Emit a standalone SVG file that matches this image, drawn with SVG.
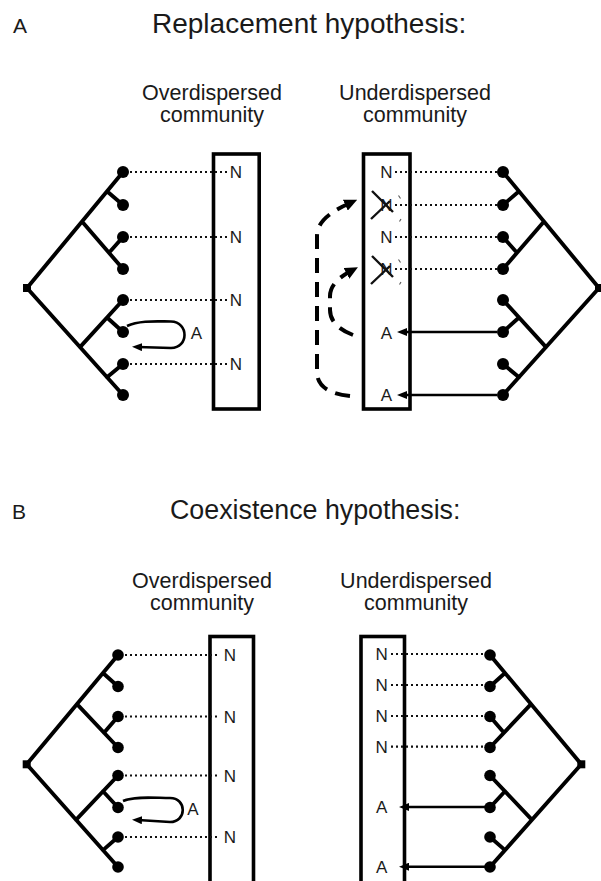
<svg xmlns="http://www.w3.org/2000/svg" width="601" height="881" viewBox="0 0 601 881">
<style>
.t{font-family:"Liberation Sans",Arial,sans-serif;fill:#1a1a1a}
.titleA{font-size:28px}
.titleB{font-size:26.8px}
.pl{font-size:21px}
.lbl{font-size:21.5px;text-anchor:middle}
.sp{font-size:17px;text-anchor:middle}
.tree{stroke:#000;stroke-width:3.9;fill:none;stroke-linecap:round}
.box{fill:none;stroke:#000;stroke-width:3.6}
.dotted{stroke:#111;stroke-width:2.2;stroke-dasharray:2 3;fill:none}
.solid{stroke:#000;stroke-width:2.6;fill:none}
.dash{stroke:#000;stroke-width:4;stroke-dasharray:15 9;fill:none}
.loop{stroke:#000;stroke-width:2.6;fill:none}
.xm{stroke:#111;stroke-width:2.4;fill:none}
.tick{stroke:#555;stroke-width:1.1;fill:none}
</style>
<defs>
<marker id="arr" viewBox="0 0 10 8" refX="4" refY="4" markerWidth="10" markerHeight="8" markerUnits="userSpaceOnUse" orient="auto"><path d="M0,0 L10,4 L0,8 z" fill="#000"/></marker>
<marker id="arrd" viewBox="0 0 13 12" refX="4" refY="6" markerWidth="13" markerHeight="12" markerUnits="userSpaceOnUse" orient="auto"><path d="M0,0 L13,6 L0,12 z" fill="#000"/></marker>
<g id="treeA">
<path class="tree" d="M27 288 L123 172 M82 221.5 L123 269 M107 191.3 L123 205 M109 252.8 L123 237 M27 288 L123 395 M80 347.1 L123 300 M107 317.5 L123 332 M107 377.2 L123 364"/>
<g fill="#000"><circle cx="123" cy="172" r="6"/><circle cx="123" cy="205" r="6"/><circle cx="123" cy="237" r="6"/><circle cx="123" cy="269" r="6"/><circle cx="123" cy="300" r="6"/><circle cx="123" cy="332" r="6"/><circle cx="123" cy="364" r="6"/><circle cx="123" cy="395" r="6"/></g>
<rect x="23" y="284" width="8" height="8" fill="#000"/>
</g>
<g id="treeB">
<path class="tree" d="M26.7 764.3 L118 655 M77 704.1 L118 747.5 M103 673 L118 686.5 M104 732.7 L118 716.5 M26.7 764.3 L118 867 M76 819.8 L118 775.5 M103 791.3 L118 807.5 M103 850.1 L118 837"/>
<g fill="#000"><circle cx="118" cy="655" r="5.8"/><circle cx="118" cy="686.5" r="5.8"/><circle cx="118" cy="716.5" r="5.8"/><circle cx="118" cy="747.5" r="5.8"/><circle cx="118" cy="775.5" r="5.8"/><circle cx="118" cy="807.5" r="5.8"/><circle cx="118" cy="837" r="5.8"/><circle cx="118" cy="867" r="5.8"/></g>
<rect x="22.7" y="760.3" width="8" height="8" fill="#000"/>
</g>
</defs>

<g id="panelA-heading">
<text class="t pl" x="13" y="33">A</text>
<text class="t titleA" x="152" y="33">Replacement hypothesis:</text>
</g>

<g id="A-tree-left"><use href="#treeA"/></g>
<g id="A-tree-right"><use href="#treeA" transform="translate(626,0) scale(-1,1)"/></g>

<g id="A-over-community">
<text class="t lbl" x="212" y="100">Overdispersed</text>
<text class="t lbl" x="212" y="122">community</text>
<rect class="box" x="213.5" y="154" width="45.7" height="255"/>
<text class="t sp" x="236" y="178">N</text>
<text class="t sp" x="236" y="243">N</text>
<text class="t sp" x="236" y="306">N</text>
<text class="t sp" x="236" y="370">N</text>
<text class="t sp" x="196.5" y="338.5">A</text>
</g>

<g id="A-under-community">
<text class="t lbl" x="415" y="100">Underdispersed</text>
<text class="t lbl" x="415" y="122">community</text>
<rect class="box" x="363.5" y="154" width="46.5" height="255"/>
<text class="t sp" x="386.5" y="178">N</text>
<text class="t sp" x="386.5" y="211">N</text>
<text class="t sp" x="386.5" y="243">N</text>
<text class="t sp" x="386.5" y="275">N</text>
<text class="t sp" x="386.5" y="338.5">A</text>
<text class="t sp" x="386.5" y="401">A</text>
<path class="xm" d="M372 191 L393 212 M371 219 L390 201 M372 256 L393 277 M371 284 L390 266"/>
<path class="tick" d="M398.5 195.5 L400.5 198.5 M401 219 L399.5 221.5 M398.5 259.5 L400.5 262.5 M401 282 L399.5 284.5"/>
</g>

<g id="connectors">
<path class="dotted" d="M130 172 H227 M130 237 H227 M130 300 H227 M130 364 H227"/>
<path class="loop" d="M127 326 C140 320 158 321.5 171 321.5 C189 322 189 348 171 348 L138 347" marker-end="url(#arr)"/>
<path class="dotted" d="M395 172 H497 M395 205 H497 M395 237 H497 M395 269 H497"/>
<path class="solid" d="M497 332 H403" marker-end="url(#arr)"/>
<path class="solid" d="M497 395 H403" marker-end="url(#arr)"/>
<path class="dash" d="M350 396 C332 394 317 388 317 372 L317 236 C317 222 330 212 349 203.5" marker-end="url(#arrd)"/>
<path class="dash" d="M353 335 C340 330 330 322 330 310 L330 296 C330 286 338 278 350 271.5" marker-end="url(#arrd)"/>
</g>

<g id="panelB-heading">
<text class="t pl" x="12" y="519">B</text>
<text class="t titleB" x="170" y="519">Coexistence hypothesis:</text>
</g>

<g id="B-tree-left"><use href="#treeB"/></g>
<g id="B-tree-right"><use href="#treeB" transform="translate(608,0) scale(-1,1)"/></g>

<g id="B-over-community">
<text class="t lbl" x="202" y="588">Overdispersed</text>
<text class="t lbl" x="202" y="610">community</text>
<rect class="box" x="210" y="636.5" width="43.5" height="260"/>
<text class="t sp" x="230" y="661">N</text>
<text class="t sp" x="230" y="722.5">N</text>
<text class="t sp" x="230" y="781.5">N</text>
<text class="t sp" x="230" y="843">N</text>
<text class="t sp" x="193" y="815">A</text>
</g>

<g id="B-under-community">
<text class="t lbl" x="416" y="588">Underdispersed</text>
<text class="t lbl" x="416" y="610">community</text>
<rect class="box" x="361" y="636.5" width="43.5" height="260"/>
<text class="t sp" x="381.7" y="660">N</text>
<text class="t sp" x="381.7" y="691">N</text>
<text class="t sp" x="381.7" y="722">N</text>
<text class="t sp" x="381.7" y="752.5">N</text>
<text class="t sp" x="381.7" y="813">A</text>
<text class="t sp" x="381.7" y="872.5">A</text>
</g>

<g id="connectors-B">
<path class="dotted" d="M125 655 H220 M125 716.5 H220 M125 775.5 H220 M125 837 H220"/>
<path class="loop" d="M123 801 C135 796 155 798 170 798 C187 798 187 822 170 822 L138 820" marker-end="url(#arr)"/>
<path class="dotted" d="M391 654 H486 M391 685 H486 M391 716 H486 M391 746.7 H486"/>
<path class="solid" d="M486 807 H405" marker-end="url(#arr)"/>
<path class="solid" d="M486 866.7 H405" marker-end="url(#arr)"/>
</g>
</svg>
